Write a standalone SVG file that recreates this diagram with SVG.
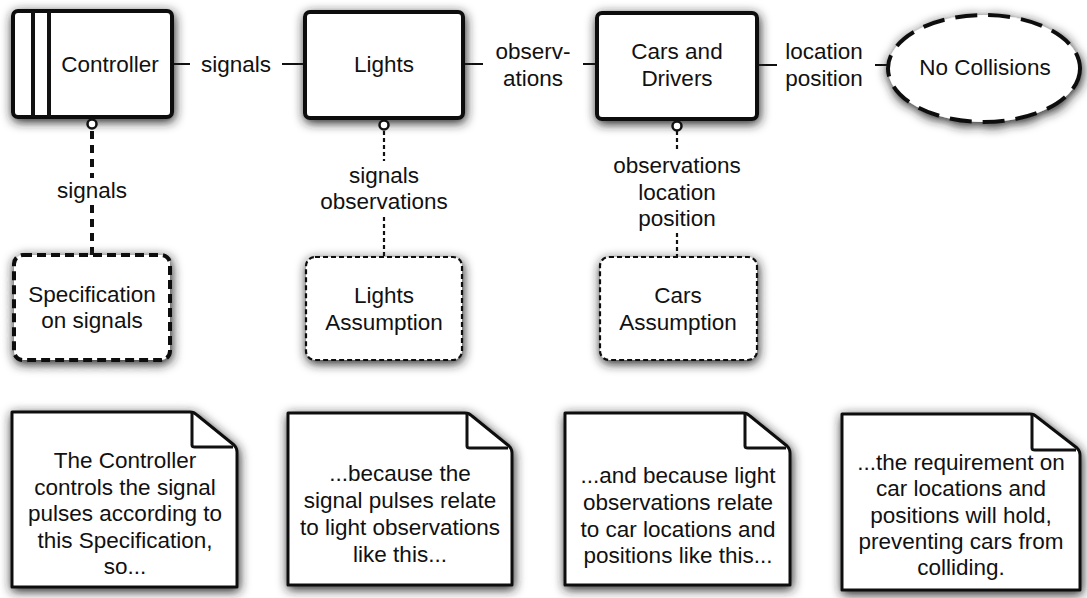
<svg xmlns="http://www.w3.org/2000/svg" width="1087" height="598" viewBox="0 0 1087 598">
<style>
text{font-family:"Liberation Sans",Arial,Helvetica,sans-serif;font-size:22.5px;fill:#111;text-anchor:middle}
.box{fill:#fff;stroke:#111;stroke-width:4;stroke-linejoin:round}
.thin{stroke:#111;stroke-width:2;fill:none}
.note{fill:#fff;stroke:#111;stroke-width:3;stroke-linejoin:round}
.fold{fill:none;stroke:#111;stroke-width:3;stroke-linejoin:round}
.spec{fill:#fff;stroke:#111;stroke-width:4;stroke-dasharray:9 5}
.assm{fill:#fff;stroke:#111;stroke-width:2.2;stroke-dasharray:5 3}
.req{fill:#fff;stroke:#111;stroke-width:4;stroke-dasharray:22 11}
.thickdash{stroke:#111;stroke-width:4;stroke-dasharray:8 6;fill:none}
.dot{stroke:#111;stroke-width:2.2;stroke-dasharray:4 3;fill:none}
.port{fill:#fff;stroke:#111;stroke-width:2.5}
</style>
<defs>
<filter id="sh" x="-20%" y="-20%" width="140%" height="150%">
<feGaussianBlur in="SourceAlpha" stdDeviation="5.5" result="b"/>
<feOffset in="b" dx="1" dy="3" result="o"/>
<feFlood flood-color="#222" flood-opacity="1"/>
<feComposite in2="o" operator="in" result="s"/>
<feMerge><feMergeNode in="s"/><feMergeNode in="SourceGraphic"/></feMerge>
</filter>
</defs>

<g id="connectors">
<line class="thin" x1="172" y1="64" x2="190" y2="64"/>
<line class="thin" x1="282" y1="64" x2="305" y2="64"/>
<line class="thin" x1="463" y1="64" x2="483" y2="64"/>
<line class="thin" x1="583" y1="64" x2="597" y2="64"/>
<line class="thin" x1="757" y1="65" x2="777" y2="65"/>
<line class="thin" x1="875" y1="65" x2="890" y2="65"/>
<line class="thickdash" x1="92" y1="131" x2="92" y2="178"/>
<line class="thickdash" x1="92" y1="205" x2="92" y2="255"/>
<line class="dot" x1="384" y1="131" x2="384" y2="161"/>
<line class="dot" x1="384" y1="217" x2="384" y2="257"/>
<line class="dot" x1="677" y1="131" x2="677" y2="149"/>
<line class="dot" x1="677" y1="233" x2="677" y2="257"/>
<text x="236" y="72">signals</text>
<text x="533" y="59">observ-</text>
<text x="533" y="86">ations</text>
<text x="824" y="59">location</text>
<text x="824" y="86">position</text>
<text x="92" y="198">signals</text>
<text x="384" y="183">signals</text>
<text x="384" y="209">observations</text>
<text x="677" y="173">observations</text>
<text x="677" y="200">location</text>
<text x="677" y="226">position</text>
</g>

<g id="controller">
<rect class="box" x="13" y="11" width="159" height="106" rx="5" filter="url(#sh)"/>
<line x1="33" y1="11" x2="33" y2="117" stroke="#111" stroke-width="4"/>
<line x1="49" y1="11" x2="49" y2="117" stroke="#111" stroke-width="4"/>
<circle class="port" cx="92" cy="124" r="4.5"/>
<text x="110" y="72">Controller</text>
</g>

<g id="lights">
<rect class="box" x="305" y="12" width="158" height="106" rx="5" filter="url(#sh)"/>
<circle class="port" cx="384" cy="125" r="4.5"/>
<text x="384" y="72">Lights</text>
</g>

<g id="cars">
<rect class="box" x="597" y="13" width="160" height="106" rx="5" filter="url(#sh)"/>
<circle class="port" cx="677" cy="126" r="4.5"/>
<text x="677" y="59">Cars and</text>
<text x="677" y="86">Drivers</text>
</g>

<g id="no-collisions">
<ellipse class="req" cx="984" cy="68.5" rx="96" ry="53.5" filter="url(#sh)"/>
<text x="985" y="75">No Collisions</text>
</g>

<g id="spec">
<rect class="spec" x="14" y="255" width="156" height="105" rx="9" filter="url(#sh)"/>
<text x="92" y="302">Specification</text>
<text x="92" y="328">on signals</text>
</g>

<g id="lights-assumption">
<rect class="assm" x="306" y="257" width="156" height="103" rx="9" filter="url(#sh)"/>
<text x="384" y="303">Lights</text>
<text x="384" y="330">Assumption</text>
</g>

<g id="cars-assumption">
<rect class="assm" x="600" y="257" width="157" height="103" rx="9" filter="url(#sh)"/>
<text x="678" y="303">Cars</text>
<text x="678" y="330">Assumption</text>
</g>

<g id="note1">
<path class="note" filter="url(#sh)" d="M12,412 H190 Q194,412 197,415 L234,445 Q237,448 237,452 V587 H12 Z"/>
<path class="fold" d="M192,413 V445 Q192,447 195,447 H233"/>
<text x="125" y="468">The Controller</text>
<text x="125" y="495">controls the signal</text>
<text x="125" y="521">pulses according to</text>
<text x="125" y="548">this Specification,</text>
<text x="125" y="574">so...</text>
</g>

<g id="note2">
<path class="note" filter="url(#sh)" d="M288,413 H465 Q469,413 472,416 L509,446 Q512,449 512,453 V585 H288 Z"/>
<path class="fold" d="M467,414 V446 Q467,448 470,448 H508"/>
<text x="400" y="481">...because the</text>
<text x="400" y="508">signal pulses relate</text>
<text x="400" y="535">to light observations</text>
<text x="400" y="562">like this...</text>
</g>

<g id="note3">
<path class="note" filter="url(#sh)" d="M565,413 H743 Q747,413 750,416 L787,446 Q790,449 790,453 V585 H565 Z"/>
<path class="fold" d="M745,414 V446 Q745,448 748,448 H786"/>
<text x="678" y="483">...and because light</text>
<text x="678" y="510">observations relate</text>
<text x="678" y="537">to car locations and</text>
<text x="678" y="563">positions like this...</text>
</g>

<g id="note4">
<path class="note" filter="url(#sh)" d="M842,414 H1030 Q1034,414 1037,417 L1077,448 Q1080,451 1080,455 V590 H842 Z"/>
<path class="fold" d="M1032,415 V448 Q1032,450 1035,450 H1076"/>
<text x="961" y="470">...the requirement on</text>
<text x="961" y="496">car locations and</text>
<text x="961" y="523">positions will hold,</text>
<text x="961" y="549">preventing cars from</text>
<text x="961" y="575">colliding.</text>
</g>
</svg>
